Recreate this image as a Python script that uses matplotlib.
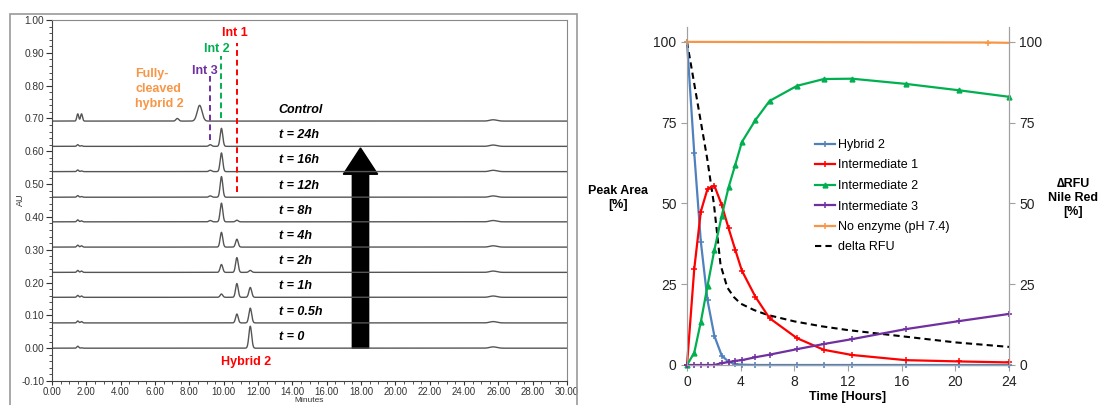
import numpy as np
import matplotlib
matplotlib.use("Agg")
import matplotlib.pyplot as plt
from matplotlib.patches import Rectangle
from matplotlib.ticker import MultipleLocator, FormatStrFormatter

plt.rcParams["font.family"] = ["Liberation Sans", "DejaVu Sans"]

# --- chromatogram data (left) ---
trace_labels = ["t = 0", "t = 0.5h", "t = 1h", "t = 2h", "t = 4h", "t = 8h",
                "t = 12h", "t = 16h", "t = 24h", "Control"]
baselines = [0.0, 0.077, 0.155, 0.231, 0.308, 0.385, 0.460, 0.538, 0.615, 0.692]

rt_hybrid2, rt_int1, rt_int2, rt_int3, rt_full = 11.55, 10.77, 9.87, 9.22, 8.6
h_hybrid2 = [0.067, 0.045, 0.030, 0.006, 0, 0, 0, 0, 0, 0]
h_int1 = [0, 0.027, 0.042, 0.045, 0.024, 0.005, 0, 0, 0, 0]
h_int2 = [0, 0, 0.010, 0.024, 0.045, 0.057, 0.063, 0.057, 0.055, 0]
h_int3 = [0, 0, 0, 0, 0, 0.004, 0.004, 0.004, 0.005, 0]
h_full = [0, 0, 0, 0, 0, 0, 0, 0, 0, 0.048]
h_solv1 = [0.006, 0.006, 0.006, 0.006, 0.006, 0.006, 0.005, 0.005, 0.005, 0.022]
h_solv2 = [0.001, 0.004, 0.004, 0.004, 0.004, 0.003, 0.002, 0.002, 0.002, 0.022]
h_late = [0.004] * 10
h_minor = [0, 0, 0, 0, 0, 0, 0, 0, 0, 0.008]

# --- kinetics data (right) ---
hours = [0, 0.54, 1.03, 1.53, 2.04, 2.59, 3.1, 3.6, 4.09, 5.1, 6.15, 8.2, 10.2,
         12.3, 16.3, 20.3, 24]
hybrid2 = [100, 65.6, 38.2, 20, 9, 2.9, 1.0, 0.3, 0.1, 0, 0, 0, 0, 0, 0, 0, 0]
int1 = [0, 29.7, 47.5, 54.5, 55.5, 49.5, 42.3, 35.6, 29.2, 21.1, 14.5, 8.3, 4.7,
        3.1, 1.5, 1.1, 0.8]
int2 = [0, 3.8, 13.3, 24.5, 35.6, 46.2, 55, 62, 69, 75.8, 81.7, 86.4, 88.5,
        88.6, 87, 85, 83]
int3 = [0, 0, 0, 0, 0, 0.6, 0.9, 1.3, 1.5, 2.4, 3.2, 4.9, 6.5, 8, 11.1, 13.6, 15.8]
noenz_hours = [0, 22.4, 24]
noenz = [100, 99.8, 99.7]
rfu_hours = [0, 0.5, 1, 1.5, 2, 2.5, 3, 3.5, 4, 5, 6, 8, 10, 12, 16, 20, 24]
rfu = [100, 88, 76, 64, 50, 31, 24, 21, 19, 17, 15.5, 13.5, 12, 10.8, 8.9, 7, 5.6]

W, H = 1100, 405
fig = plt.figure(figsize=(11, 4.05), dpi=100)

def fx(px):
    return px / W

def fy(py):
    return 1 - py / H

# outer frame around chromatogram
fig.add_artist(Rectangle((fx(10), -0.02), fx(577 - 10), fy(14) + 0.02,
                         transform=fig.transFigure, fill=False, ec="#999999", lw=1.2))

ax = fig.add_axes([fx(52), fy(381), fx(567 - 52), fy(20) - fy(381)])
minutes = np.linspace(0, 30, 3001)

def gauss(rt, w):
    return np.exp(-0.5 * ((minutes - rt) / w) ** 2)

for i, lab in enumerate(trace_labels):
    y = np.full_like(minutes, baselines[i])
    y += h_hybrid2[i] * gauss(rt_hybrid2, 0.08)
    y += h_int1[i] * gauss(rt_int1, 0.075)
    y += h_int2[i] * gauss(rt_int2, 0.075)
    y += h_int3[i] * gauss(rt_int3, 0.08)
    y += h_full[i] * gauss(rt_full, 0.14)
    y += h_solv1[i] * gauss(1.5, 0.055)
    y += h_solv2[i] * gauss(1.72, 0.055)
    y += h_late[i] * gauss(25.7, 0.2)
    y += h_minor[i] * gauss(7.3, 0.08)
    ax.plot(minutes, y, color="#555555", lw=1.0)
    ax.text(13.2, baselines[i] + 0.034, lab, fontsize=9, fontweight="bold",
            fontstyle="italic", va="center", ha="left")

# dashed markers for peaks
ax.plot([rt_int1, rt_int1], [0.475, 0.93], color="#ff0000", ls=(0, (3, 2)), lw=1.4)
ax.plot([rt_int2, rt_int2], [0.70, 0.89], color="#00b050", ls=(0, (3, 2)), lw=1.4)
ax.plot([rt_int3, rt_int3], [0.635, 0.83], color="#7030a0", ls=(0, (3, 2)), lw=1.4)
ax.text(10.66, 0.96, "Int 1", color="#ff0000", fontsize=9, fontweight="bold", ha="center", va="center")
ax.text(9.6, 0.912, "Int 2", color="#00b050", fontsize=9, fontweight="bold", ha="center", va="center")
ax.text(8.9, 0.845, "Int 3", color="#7030a0", fontsize=9, fontweight="bold", ha="center", va="center")
ax.text(4.86, 0.79, "Fully-\ncleaved\nhybrid 2", color="#f79646", fontsize=9,
        fontweight="bold", ha="left", va="center", linespacing=1.35)
ax.text(11.3, -0.042, "Hybrid 2", color="#ff0000", fontsize=9, fontweight="bold", ha="center", va="center")

ax.arrow(17.97, 0.0, 0, 0.61, width=0.95, head_width=2.0, head_length=0.08,
         length_includes_head=True, color="black")

ax.set_xlim(0, 30)
ax.set_ylim(-0.10, 1.00)
ax.xaxis.set_major_locator(MultipleLocator(2))
ax.xaxis.set_minor_locator(MultipleLocator(0.5))
ax.yaxis.set_major_locator(MultipleLocator(0.1))
ax.yaxis.set_minor_locator(MultipleLocator(0.02))
ax.xaxis.set_major_formatter(FormatStrFormatter("%.2f"))
ax.yaxis.set_major_formatter(FormatStrFormatter("%.2f"))
ax.tick_params(which="major", length=4, labelsize=7.3, colors="#333333", pad=1.5)
ax.tick_params(which="minor", length=2, colors="#333333")
ax.tick_params(axis="x", which="major", length=3, labelsize=7, pad=1)
for s in ["top", "right"]:
    ax.spines[s].set_color("#888888")
for s in ["left", "bottom"]:
    ax.spines[s].set_color("#444444")
fig.text(fx(20), fy(200), "AU", rotation=90, fontsize=6.5, color="#333333", ha="center", va="center")
fig.text(fx(309), fy(404.5), "Minutes", fontsize=6, color="#333333", ha="center", va="bottom")

# --- right panel ---
ax2 = fig.add_axes([fx(687), fy(365), fx(1009 - 687), fy(27) - fy(365)])
ax2.plot(hours, hybrid2, color="#4f81bd", lw=1.6, marker="+", ms=4, mew=1.1, label="Hybrid 2")
ax2.plot(hours, int1, color="#ff0000", lw=1.6, marker="+", ms=4, mew=1.1, label="Intermediate 1")
ax2.plot(hours, int2, color="#00b050", lw=1.6, marker="^", ms=3.5, label="Intermediate 2")
ax2.plot(hours, int3, color="#7030a0", lw=1.6, marker="+", ms=4, mew=1.1, label="Intermediate 3")
ax2.plot(noenz_hours, noenz, color="#f79646", lw=1.6, marker="+", ms=4, mew=1.1,
         markevery=[0, 1], label="No enzyme (pH 7.4)")
ax3 = ax2.twinx()
ax3.plot(rfu_hours, rfu, color="black", lw=1.5, ls=(0, (3, 2)), label="delta RFU")

for a in (ax2, ax3):
    a.set_xlim(0, 24)
    a.set_ylim(0, 104.6)
    a.set_yticks([0, 25, 50, 75, 100])
    a.tick_params(labelsize=10, length=4, color="#a0a0a0", labelcolor="#222222")
    a.spines["top"].set_visible(False)
    for s in ["left", "right", "bottom"]:
        a.spines[s].set_color("#a0a0a0")
ax2.set_xticks([0, 4, 8, 12, 16, 20, 24])
ax2.set_zorder(ax3.get_zorder() + 1)
ax2.patch.set_visible(False)
for ln in ax2.lines + ax3.lines:
    ln.set_clip_on(False)

h1, l1 = ax2.get_legend_handles_labels()
h3, l3 = ax3.get_legend_handles_labels()
fig.legend(h1 + h3, l1 + l3, loc="upper left", bbox_to_anchor=(fx(815), fy(139)),
           frameon=False, fontsize=9, handlelength=1.6, handletextpad=0.2,
           labelspacing=0.68, borderpad=0, borderaxespad=0)

fig.text(fx(618), fy(198), "Peak Area\n[%]", fontsize=9, fontweight="bold", ha="center", va="center")
fig.text(fx(1073), fy(198), "\u2206RFU\nNile Red\n[%]", fontsize=9, fontweight="bold",
         ha="center", va="center")
fig.text(fx(848), fy(397), "Time [Hours]", fontsize=9, fontweight="bold", ha="center", va="center")

fig.savefig("out.png", dpi=100)
